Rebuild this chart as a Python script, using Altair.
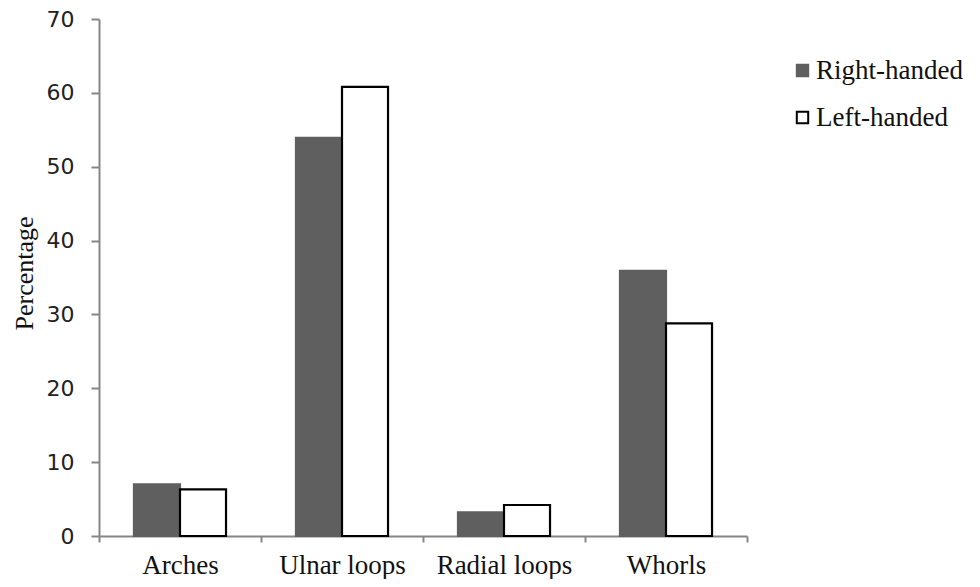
import altair as alt
import pandas as pd

categories = ["Arches", "Ulnar loops", "Radial loops", "Whorls"]
groups = ["Right-handed", "Left-handed"]
right_handed = [7.0, 53.9, 3.2, 35.9]
left_handed = [6.3, 60.8, 4.2, 28.8]

rows = []
for c, r, l in zip(categories, right_handed, left_handed):
    rows.append({"Pattern": c, "Group": groups[0], "Value": r})
    rows.append({"Pattern": c, "Group": groups[1], "Value": l})
df = pd.DataFrame(rows)

axis_color = "#868686"

chart = alt.Chart(df).mark_bar(strokeWidth=2.2).encode(
    x=alt.X("Pattern:N", sort=categories,
            scale=alt.Scale(paddingInner=0, paddingOuter=0),
            axis=alt.Axis(title=None, labelAngle=0, tickBand="extent", grid=False,
                          labelFont="Liberation Serif", labelFontSize=27,
                          labelColor="#111", domainColor=axis_color, domainWidth=2,
                          tickColor=axis_color, tickWidth=2, tickSize=6,
                          labelPadding=10)),
    xOffset=alt.XOffset("Group:N", sort=groups,
                        scale=alt.Scale(paddingOuter=0.76, paddingInner=0)),
    y=alt.Y("Value:Q",
            scale=alt.Scale(domain=[0, 70], nice=False),
            axis=alt.Axis(title="Percentage", values=[0, 10, 20, 30, 40, 50, 60, 70],
                          grid=False, labelFont="DejaVu Sans", labelFontSize=22,
                          labelColor="#222", domainColor=axis_color, domainWidth=2,
                          tickColor=axis_color, tickWidth=2, tickSize=8,
                          labelPadding=17,
                          titleFont="Liberation Serif", titleFontSize=26,
                          titleFontWeight="normal", titleColor="#111",
                          titleY=254, titleX=-67, titleBaseline="alphabetic")),
    color=alt.Color("Group:N", sort=groups,
                    scale=alt.Scale(domain=groups, range=["#5f5f5f", "#ffffff"]),
                    legend=alt.Legend(title=None, orient="none", legendX=690, legendY=38,
                                      symbolType="square", symbolSize=130,
                                      symbolStrokeWidth=2,
                                      labelFont="Liberation Serif", labelFontSize=27,
                                      labelColor="#111", rowPadding=19, padding=0,
                                      labelOffset=0)),
    stroke=alt.Stroke("Group:N", sort=groups,
                      scale=alt.Scale(domain=groups, range=["#5f5f5f", "#000000"]),
                      legend=None),
).properties(
    width=648, height=517,
    autosize=alt.AutoSizeParams(type="none"),
    padding={"left": 91, "top": 11, "right": 225, "bottom": 43},
    background="white",
    view=alt.ViewBackground(fill="white", stroke="white", strokeOpacity=0, strokeWidth=0),
).configure(
    view={"stroke": "white", "strokeOpacity": 0, "strokeWidth": 0},
    style={"cell": {"stroke": "white", "strokeOpacity": 0, "strokeWidth": 0}},
    axis={"grid": False},
)

chart.save("out.html", embed_options={"renderer": "svg", "actions": False})
